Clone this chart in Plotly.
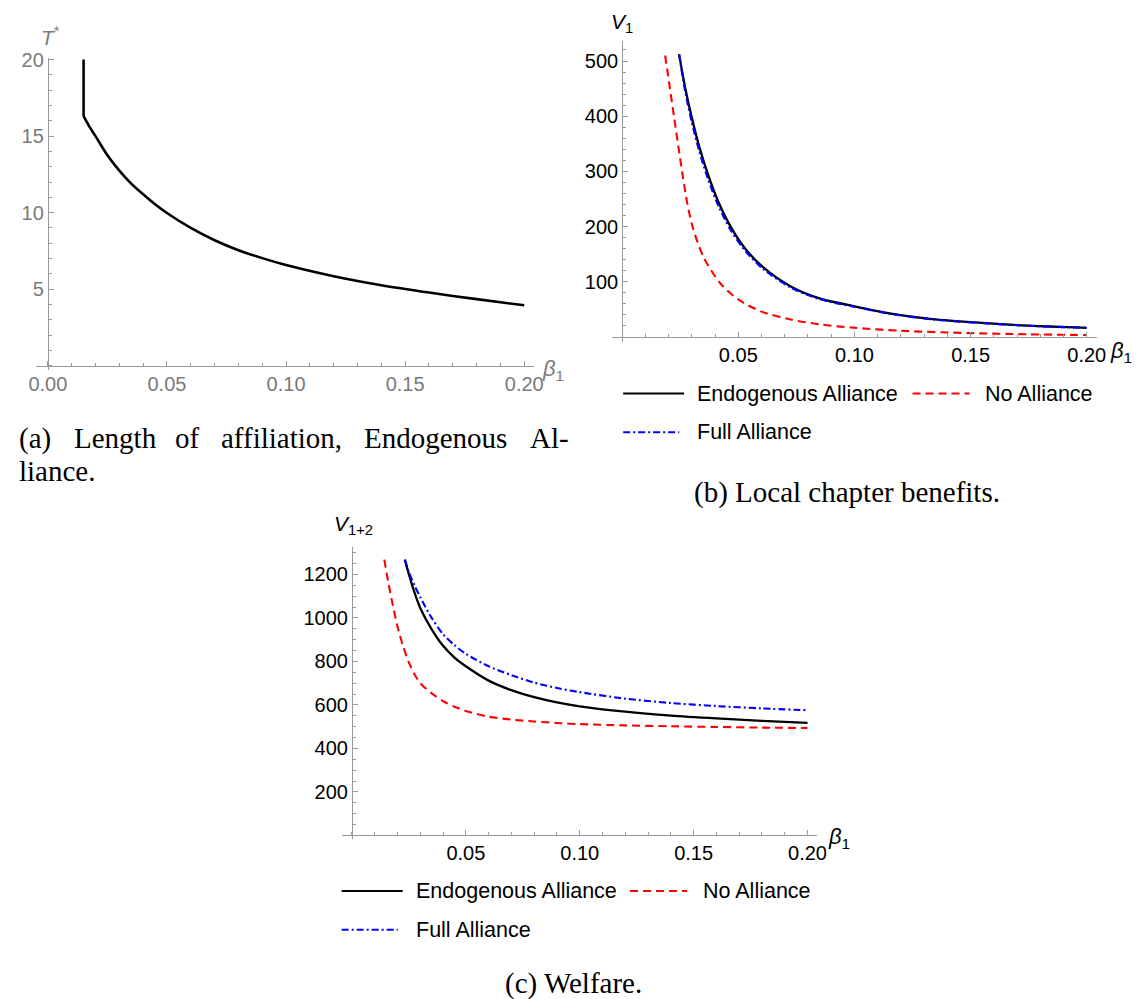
import plotly.graph_objects as go

W, H = 1143, 999

# ---------------- data ----------------
# (a) Length of affiliation, Endogenous Alliance
beta_a = [0.015, 0.015, 0.0175, 0.02, 0.025, 0.03, 0.035, 0.04, 0.045, 0.05, 0.06, 0.07,
          0.08, 0.09, 0.10, 0.12, 0.14, 0.16, 0.18, 0.20]
T_star = [20.0, 16.3, 15.6, 15.0, 13.75, 12.75, 11.9, 11.2, 10.55, 9.98, 9.0, 8.2,
          7.55, 7.03, 6.58, 5.85, 5.26, 4.78, 4.35, 3.95]

# (b) Local chapter benefits
beta_b = [0.0245, 0.0272, 0.030, 0.0333, 0.0369, 0.0415, 0.0468, 0.053, 0.0605, 0.0726,
          0.085, 0.10, 0.115, 0.1335, 0.155, 0.175, 0.20]
V1_endog = [512, 450, 397, 343, 295, 244, 199, 160, 127, 91.6, 70, 55.7, 43, 32.5, 25.5, 20.5, 16.7]
V1_full = [512, 443, 389, 335, 287, 237, 193, 156, 124, 89.5, 68.5, 54.7, 42.3, 32, 25.2, 20.3, 16.6]
beta_b_no = [0.0185, 0.0205, 0.0224, 0.0242, 0.0259, 0.028, 0.0305, 0.035, 0.0422, 0.05,
             0.06, 0.0726, 0.085, 0.10, 0.12, 0.15, 0.175, 0.20]
V1_no = [510, 452, 397, 345, 297, 243, 197, 145, 97.5, 68, 46, 31.7, 23, 16.7, 11.3, 7.0, 4.9, 3.6]

# (c) Welfare
beta_c = [0.0232, 0.025, 0.0275, 0.03, 0.035, 0.04, 0.045, 0.05, 0.06, 0.07, 0.08, 0.09,
          0.10, 0.12, 0.14, 0.16, 0.18, 0.20]
W_endog = [1268, 1200, 1115, 1045, 948, 872, 818, 778, 712, 668, 636, 612,
           594, 569, 551, 538, 527, 518]
W_full = [1268, 1210, 1148, 1095, 1000, 925, 875, 835, 778, 737, 703, 678,
          659, 629, 609, 595, 584, 576]
beta_c_no = [0.0142, 0.016, 0.018, 0.02, 0.0225, 0.025, 0.0275, 0.03, 0.035, 0.04, 0.045,
             0.05, 0.06, 0.07, 0.08, 0.09, 0.10, 0.12, 0.14, 0.16, 0.18, 0.20]
W_no = [1268, 1160, 1055, 960, 868, 795, 740, 700, 653, 618, 592,
        572, 546, 533, 524, 517, 512, 506, 502, 499, 496, 494]

# tick labels
xticks = [0.0, 0.05, 0.10, 0.15, 0.20]
xticks_a_text = ["0.00", "0.05", "0.10", "0.15", "0.20"]
xticks_bc = [0.05, 0.10, 0.15, 0.20]
xticks_bc_text = ["0.05", "0.10", "0.15", "0.20"]
yticks_a = [5, 10, 15, 20]
yticks_b = [100, 200, 300, 400, 500]
yticks_c = [200, 400, 600, 800, 1000, 1200]

legend_names = ["Endogenous Alliance", "No Alliance", "Full Alliance"]

# ---------------- styles ----------------
AX = "#9a9a9a"
GRAYTXT = "#7a7a7a"
SANS = "Liberation Sans, Arial, sans-serif"
SERIF = "Liberation Serif, Times New Roman, serif"
TICKSIZE = 20
BLACK_LINE = dict(color="black", width=2.3, shape="spline", smoothing=0.8)
RED_LINE = dict(color="#ff0000", width=2.1, dash="8px,5px", shape="spline", smoothing=0.8)
BLUE_LINE = dict(color="#0000ff", width=2.1, dash="7px,3px,2px,3px", shape="spline", smoothing=0.8)

# panel geometry: origin pixel, pixels per unit, ranges
panels = {
    "a": dict(ox=40.5, oy=360.0, sx=2420.0, sy=15.45, xr=[-0.0048, 0.2039], yr=[-0.3, 20.1]),
    "b": dict(ox=624.0, oy=331.0, sx=2360.0, sy=0.557, xr=[-0.0042, 0.2045], yr=[-9, 537]),
    "c": dict(ox=349.5, oy=834.0, sx=2314.0, sy=0.2195, xr=[-0.0045, 0.2041], yr=[-18, 1324]),
}


def doms(p):
    xd = [(p["ox"] + p["xr"][0] * p["sx"]) / W, (p["ox"] + p["xr"][1] * p["sx"]) / W]
    yd = [1 - (p["oy"] - p["yr"][0] * p["sy"]) / H, 1 - (p["oy"] - p["yr"][1] * p["sy"]) / H]
    return xd, yd, 1 - p["oy"] / H, p["ox"] / W


def make_axes(p, tickvals, ticktext, ytickvals, ydtick_minor, txtcolor):
    xd, yd, xpos, ypos = doms(p)
    common = dict(showline=True, linecolor=AX, linewidth=1, ticks="inside", ticklen=5,
                  tickcolor=AX, tickwidth=1, showgrid=False, zeroline=False,
                  tickfont=dict(family=SANS, size=TICKSIZE, color=txtcolor), anchor="free")
    xa = dict(common, domain=xd, range=p["xr"], position=xpos, tickmode="array",
              tickvals=tickvals, ticktext=ticktext,
              minor=dict(ticks="inside", ticklen=3, tickcolor=AX, tickmode="linear",
                         tick0=0, dtick=0.01, showgrid=False))
    ya = dict(common, domain=yd, range=p["yr"], position=ypos, tickmode="array",
              tickvals=ytickvals, ticktext=[str(v) for v in ytickvals],
              minor=dict(ticks="inside", ticklen=3, tickcolor=AX, tickmode="linear",
                         tick0=0, dtick=ydtick_minor, showgrid=False))
    return xa, ya


fig = go.Figure()

# (a): vertical jump segment, then the smooth decreasing part
fig.add_trace(go.Scatter(x=beta_a[:2], y=T_star[:2], mode="lines",
                         line=dict(color="black", width=2.6), xaxis="x", yaxis="y", name="T*"))
fig.add_trace(go.Scatter(x=beta_a[1:], y=T_star[1:], mode="lines",
                         line=dict(color="black", width=2.6, shape="spline", smoothing=0.8),
                         xaxis="x", yaxis="y", name="T*"))
# (b)
fig.add_trace(go.Scatter(x=beta_b, y=V1_endog, mode="lines", line=BLACK_LINE,
                         xaxis="x2", yaxis="y2", name=legend_names[0]))
fig.add_trace(go.Scatter(x=beta_b_no, y=V1_no, mode="lines", line=RED_LINE,
                         xaxis="x2", yaxis="y2", name=legend_names[1]))
fig.add_trace(go.Scatter(x=beta_b, y=V1_full, mode="lines", line=BLUE_LINE,
                         xaxis="x2", yaxis="y2", name=legend_names[2]))
# (c)
fig.add_trace(go.Scatter(x=beta_c, y=W_endog, mode="lines", line=BLACK_LINE,
                         xaxis="x3", yaxis="y3", name=legend_names[0]))
fig.add_trace(go.Scatter(x=beta_c_no, y=W_no, mode="lines", line=RED_LINE,
                         xaxis="x3", yaxis="y3", name=legend_names[1]))
fig.add_trace(go.Scatter(x=beta_c, y=W_full, mode="lines", line=BLUE_LINE,
                         xaxis="x3", yaxis="y3", name=legend_names[2]))

xa, ya = make_axes(panels["a"], xticks, xticks_a_text, yticks_a, 1, GRAYTXT)
xb, yb = make_axes(panels["b"], xticks_bc, xticks_bc_text, yticks_b, 20, "black")
xc, yc = make_axes(panels["c"], xticks_bc, xticks_bc_text, yticks_c, 50, "black")


def P(x, y):
    return x / W, 1 - y / H


annotations = []
shapes = []


def label(text, x, y, size, color, family=SANS, xanchor="left"):
    px, py = P(x, y)
    annotations.append(dict(text=text, x=px, y=py, xref="paper", yref="paper",
                            xanchor=xanchor, yanchor="middle", showarrow=False,
                            font=dict(family=family, size=size, color=color)))


# axis labels
label("<i>T</i><sup>*</sup>", 31, 27, 21, GRAYTXT)
label("<i>β</i><sub>1</sub>", 541, 364, 22, GRAYTXT)
label("<i>V</i><sub>1</sub>", 611, 14, 21, "black")
label("<i>β</i><sub>1</sub>", 1118, 346, 22, "black")
label("<i>V</i><sub>1+2</sub>", 329, 521, 21, "black")
label("<i>β</i><sub>1</sub>", 831, 837, 22, "black")


# legends (drawn samples + text)
def legend_block(x0, y1, y2, red_x0):
    samples = [
        (x0, x0 + 62, y1, BLACK_LINE, legend_names[0], x0 + 73),
        (red_x0, red_x0 + 58, y1, RED_LINE, legend_names[1], red_x0 + 72),
        (x0, x0 + 57, y2, BLUE_LINE, legend_names[2], x0 + 73),
    ]
    for xs, xe, yy, ln, name, tx in samples:
        a, b = P(xs, yy)
        c, d = P(xe, yy)
        shapes.append(dict(type="line", xref="paper", yref="paper", x0=a, y0=b, x1=c, y1=d,
                           line=dict(color=ln["color"], width=2, dash=ln.get("dash", "solid"))))
        label(name, tx, yy, 21.5, "black")


legend_block(625, 388, 427, 919)
legend_block(339, 890, 929, 632)

# captions
cap_a_words = ["(a)", "Length", "of", "affiliation,", "Endogenous", "Al-"]
cap_a_x = [9, 65, 168, 214, 360, 528]
for wtxt, wx in zip(cap_a_words, cap_a_x):
    label(wtxt, wx, 433, 29, "black", SERIF)
label("liance.", 9, 466, 29, "black", SERIF)
label("(b) Local chapter benefits.", 695, 488, 29, "black", SERIF)
label("(c) Welfare.", 503, 983, 29, "black", SERIF)

fig.update_layout(
    width=W, height=H, margin=dict(l=0, r=0, t=0, b=0),
    paper_bgcolor="white", plot_bgcolor="white", showlegend=False,
    xaxis=xa, yaxis=ya, xaxis2=xb, yaxis2=yb, xaxis3=xc, yaxis3=yc,
    annotations=annotations, shapes=shapes,
)

fig.write_html("out.html")
